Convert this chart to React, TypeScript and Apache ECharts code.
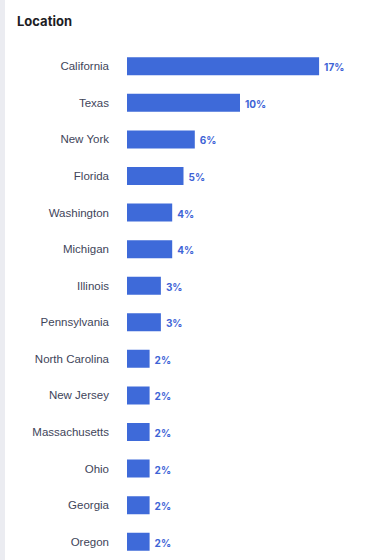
import React, { useEffect, useRef } from "react";
import * as echarts from "echarts";

const states = [
  "California",
  "Texas",
  "New York",
  "Florida",
  "Washington",
  "Michigan",
  "Illinois",
  "Pennsylvania",
  "North Carolina",
  "New Jersey",
  "Massachusetts",
  "Ohio",
  "Georgia",
  "Oregon",
];
const shares = [17, 10, 6, 5, 4, 4, 3, 3, 2, 2, 2, 2, 2, 2];
const chartTitle = "Location";

export default function App() {
  const ref = useRef<HTMLDivElement>(null);
  useEffect(() => {
    if (!ref.current) return;
    const chart = echarts.init(ref.current, undefined, { renderer: "svg" });
    chart.setOption({
      animation: false,
      backgroundColor: "#ffffff",
      graphic: [
        {
          type: "rect",
          left: 0,
          top: 0,
          shape: { width: 5, height: 560 },
          style: { fill: "#ebecf1" },
        },
        {
          type: "text",
          left: 17,
          top: 14,
          style: {
            text: chartTitle,
            fontSize: 13,
            fontWeight: "bold",
            fill: "#1d1d24",
            fontFamily: "Inter, sans-serif",
          },
        },
      ],
      grid: { left: 127, top: 48, width: 226, height: 516 },
      xAxis: {
        type: "value",
        min: 0,
        max: 20,
        show: false,
      },
      yAxis: {
        type: "category",
        data: states,
        inverse: true,
        axisLine: { show: false },
        axisTick: { show: false },
        splitLine: { show: false },
        axisLabel: {
          margin: 18,
          fontSize: 11.5,
          color: "#41455a",
          fontFamily: "Liberation Sans",
          verticalAlign: "middle",
          padding: [0, 0, 2, 0],
        },
      },
      series: [
        {
          type: "bar",
          data: shares,
          barWidth: 18,
          itemStyle: { color: "#3e6ad9" },
          label: {
            show: true,
            position: "right",
            distance: 5,
            formatter: "{c}%",
            fontSize: 10,
            fontWeight: "bold",
            color: "#3e63d6",
            fontFamily: "Inter, sans-serif",
            offset: [0, 1],
          },
        },
      ],
    });
    return () => chart.dispose();
  }, []);
  return (
    <div
      ref={ref}
      style={{ position: "fixed", left: 0, top: 0, width: 384, height: 560 }}
    />
  );
}
